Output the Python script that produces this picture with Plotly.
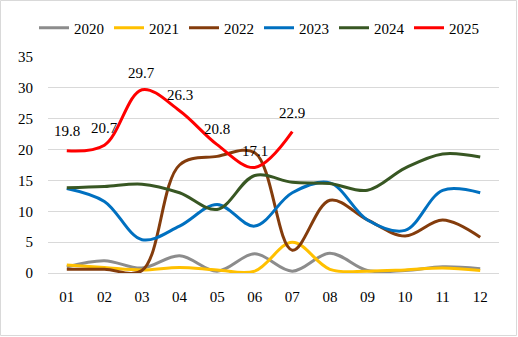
import plotly.graph_objects as go

months = ["01", "02", "03", "04", "05", "06", "07", "08", "09", "10", "11", "12"]
years = ["2020", "2021", "2022", "2023", "2024", "2025"]

v2020 = [1.0, 2.0, 0.8, 2.8, 0.3, 3.1, 0.3, 3.2, 0.4, 0.4, 1.0, 0.7]
v2021 = [1.3, 0.9, 0.5, 0.9, 0.5, 0.3, 5.0, 0.6, 0.3, 0.5, 0.8, 0.4]
v2022 = [0.6, 0.6, 0.4, 17.5, 18.9, 19.5, 3.7, 11.8, 8.6, 6.0, 8.6, 5.8]
v2023 = [13.7, 11.6, 5.4, 7.6, 11.1, 7.6, 13.0, 14.6, 8.6, 6.9, 13.4, 13.0]
v2024 = [13.8, 14.0, 14.4, 13.0, 10.3, 15.8, 14.7, 14.5, 13.4, 17.0, 19.3, 18.8]
v2025 = [19.8, 20.7, 29.7, 26.3, 20.8, 17.1, 22.9]

colors = ["#8C8C8C", "#FFC000", "#843C0C", "#0070C0", "#385723", "#FF0000"]
series = [v2020, v2021, v2022, v2023, v2024, v2025]
y_ticks = [0, 5, 10, 15, 20, 25, 30, 35]
label_shift = [20, 17, 17, 16, 16, 16, 19]

FONT = "Liberation Serif"
W, H = 518, 337
L, R, T, B = 48, 19, 57, 64
pw, ph = W - L - R, H - T - B

fig = go.Figure()
for name, vals, col in zip(years, series, colors):
    fig.add_trace(go.Scatter(
        x=months[:len(vals)], y=vals, name=name, mode="lines",
        line=dict(color=col, width=3, shape="spline", smoothing=1.0),
    ))

# category axis: annotations positioned by category index
annotations = [
    dict(x=i, y=v, xref="x", yref="y", text=f"{v:.1f}", showarrow=False,
         yanchor="middle", xanchor="center", yshift=s,
         font=dict(family=FONT, size=15, color="#000000"))
    for i, (v, s) in enumerate(zip(v2025, label_shift))
]

fig.update_layout(
    width=W, height=H,
    margin=dict(l=L, r=R, t=T, b=B, autoexpand=False),
    paper_bgcolor="white", plot_bgcolor="white",
    font=dict(family=FONT, size=15, color="#000000"),
    showlegend=True,
    annotations=annotations,
    legend=dict(
        orientation="h", x=(34 - L) / pw, xanchor="left",
        y=(H - B - 28) / ph, yanchor="middle",
        entrywidth=30, entrywidthmode="pixels",
        font=dict(family=FONT, size=15),
        itemwidth=30, tracegroupgap=0,
        bgcolor="rgba(0,0,0,0)",
    ),
    xaxis=dict(
        type="category", range=[-0.5, 11.5], showgrid=False,
        showline=True, linecolor="#D9D9D9", linewidth=1,
        ticks="", ticklabelstandoff=10, tickfont=dict(family=FONT, size=15),
    ),
    yaxis=dict(
        range=[0, 35], tickvals=y_ticks, showgrid=True, gridcolor="#D9D9D9",
        gridwidth=1, zeroline=False, showline=False, ticks="",
        ticklabelstandoff=14, tickfont=dict(family=FONT, size=15),
    ),
    shapes=[dict(
        type="rect", xref="paper", yref="paper",
        x0=(0.5 - L) / pw, x1=(516.5 - L) / pw,
        y0=(H - B - 335.5) / ph, y1=(H - B - 0.5) / ph,
        line=dict(color="#D9D9D9", width=1), fillcolor="rgba(0,0,0,0)",
        layer="below",
    )],
)

fig.write_html("out.html")
